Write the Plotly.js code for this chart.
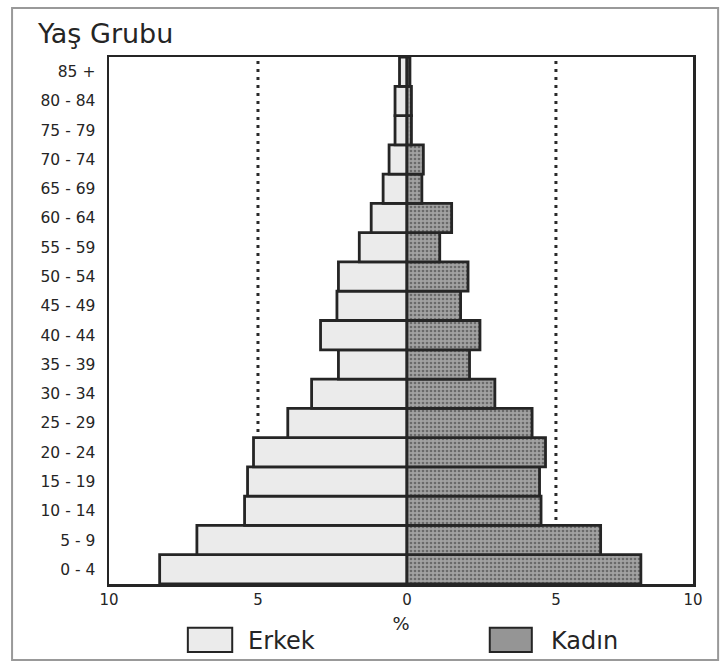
<!DOCTYPE html>
<html>
<head>
<meta charset="utf-8">
<script src="https://cdn.plot.ly/plotly-3.0.1.min.js"></script>
<style>html,body{margin:0;padding:0;background:#fff;}#chart{width:723px;height:671px;}</style>
</head>
<body>
<div id="chart"></div>
<script>
const ageGroups = ['0-4','5-9','10-14','15-19','20-24','25-29','30-34','35-39','40-44','45-49','50-54','55-59','60-64','65-69','70-74','75-79','80-84','85+'];
const ageLabels = ['0 - 4','5 - 9','10 - 14','15 - 19','20 - 24','25 - 29','30 - 34','35 - 39','40 - 44','45 - 49','50 - 54','55 - 59','60 - 64','65 - 69','70 - 74','75 - 79','80 - 84','85 +'];
const erkek = [8.3, 7.05, 5.45, 5.35, 5.15, 4.0, 3.2, 2.3, 2.9, 2.35, 2.3, 1.6, 1.2, 0.8, 0.6, 0.4, 0.4, 0.25];
const kadin = [7.85, 6.5, 4.5, 4.45, 4.65, 4.2, 2.95, 2.1, 2.45, 1.8, 2.05, 1.1, 1.5, 0.5, 0.55, 0.15, 0.15, 0.1];
const xTickVals = [-10, -5, 0, 5, 9.6];
const xTickText = ['10', '5', '0', '5', '10'];
const refLines = [-5, 5];

const ink = '#252525';
const font = 'DejaVu Sans, Liberation Sans, Arial, sans-serif';

const traces = [
  {
    type: 'bar', orientation: 'h', name: 'Erkek',
    y: ageGroups, x: erkek.map(v => -v),
    marker: {color: '#ebebeb', line: {color: ink, width: 2.8}},
    showlegend: false, hoverinfo: 'skip'
  },
  {
    type: 'bar', orientation: 'h', name: 'Kadın',
    y: ageGroups, x: kadin,
    marker: {
      color: '#959595', line: {color: ink, width: 2.8},
      pattern: {shape: '.', fgcolor: '#6a6a6a', bgcolor: '#a2a2a2', size: 4, solidity: 0.35}
    },
    showlegend: false, hoverinfo: 'skip'
  }
];

const shapes = refLines.map(v => ({
  type: 'line', xref: 'x', yref: 'paper', x0: v, x1: v, y0: 0, y1: 1, layer: 'below',
  line: {color: '#2a2a2a', width: 3, dash: '3px,5px'}
}));
shapes.push(
  {type: 'rect', xref: 'paper', yref: 'paper', x0: 0.135, x1: 0.211, y0: -0.129, y1: -0.083,
   fillcolor: '#ebebeb', line: {color: ink, width: 2}},
  {type: 'rect', xref: 'paper', yref: 'paper', x0: 0.652, x1: 0.724, y0: -0.129, y1: -0.083,
   fillcolor: '#959595', line: {color: ink, width: 2}},
  {type: 'rect', xref: 'paper', yref: 'paper', x0: -0.166, x1: 1.043, y0: -0.144, y1: 1.093,
   fillcolor: 'rgba(0,0,0,0)', line: {color: '#999', width: 2}}
);

const layout = {
  width: 723, height: 671,
  margin: {l: 109, r: 30, t: 57, b: 87},
  paper_bgcolor: '#fff', plot_bgcolor: '#fff',
  barmode: 'relative', bargap: 0,
  font: {family: font, color: ink},
  xaxis: {
    range: [-10, 9.6], tickvals: xTickVals, ticktext: xTickText,
    showgrid: false, zeroline: false, showline: true, mirror: true, linecolor: ink, linewidth: 2.5,
    ticks: '', tickfont: {size: 15, color: ink},
    title: {text: '%', font: {size: 18, color: ink}, standoff: 10},
    fixedrange: true
  },
  yaxis: {
    type: 'category', categoryorder: 'array', categoryarray: ageGroups,
    tickvals: ageGroups, ticktext: ageLabels,
    range: [-0.5, 17.5],
    showgrid: false, zeroline: false, showline: true, mirror: true, linecolor: ink, linewidth: 2.5,
    ticks: '', ticklabelstandoff: 8, tickfont: {size: 15.5, color: ink},
    fixedrange: true
  },
  annotations: [
    {xref: 'paper', yref: 'paper', x: -0.127, y: 1.0455, xanchor: 'left', yanchor: 'middle',
     text: 'Yaş Grubu', showarrow: false, font: {size: 27, color: ink}},
    {xref: 'paper', yref: 'paper', x: 0.234, y: -0.108, xanchor: 'left', yanchor: 'middle',
     text: 'Erkek', showarrow: false, font: {size: 24, color: ink}},
    {xref: 'paper', yref: 'paper', x: 0.753, y: -0.108, xanchor: 'left', yanchor: 'middle',
     text: 'Kadın', showarrow: false, font: {size: 24, color: ink}}
  ],
  shapes: shapes
};

Plotly.newPlot('chart', traces, layout, {displayModeBar: false, staticPlot: true});
</script>
</body>
</html>
